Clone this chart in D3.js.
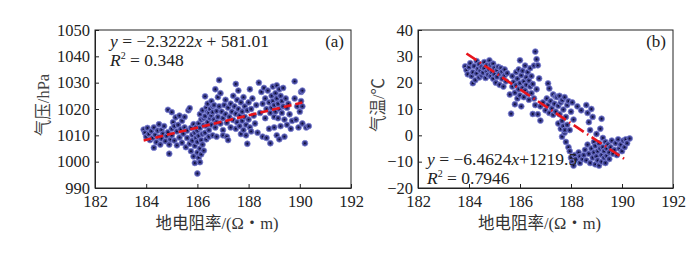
<!DOCTYPE html>
<html>
<head>
<meta charset="utf-8">
<script src="https://cdn.jsdelivr.net/npm/d3@7"></script>
<style>
  body { margin: 0; background: #fff; }
  svg text { font-family: "Liberation Serif", "Noto Sans CJK SC", serif; }
</style>
</head>
<body>
<div id="chart"></div>
<script>
// resistance (Ω·m) vs pressure (hPa)
var pressurePts = [
  [183.9,1012.2],[183.95,1011.0],[184.0,1009.5],[184.05,1012.8],[184.1,1010.5],[184.15,1008.2],[184.2,1011.6],
  [184.25,1009.0],[184.3,1005.3],[184.3,1013.0],[184.35,1010.2],[184.4,1007.4],[184.45,1011.8],[184.5,1009.3],
  [184.5,1014.2],[184.55,1006.5],[184.6,1008.8],[184.6,1012.0],[184.65,1010.6],[184.7,1013.5],[184.75,1007.8],
  [184.8,1009.8],[184.85,1011.2],[184.85,1019.7],[184.9,1003.0],[184.9,1006.5],[184.95,1008.5],[185.0,1012.5],
  [185.0,1010.0],[185.0,1018.8],[185.05,1015.0],[185.1,1013.5],[185.1,1008.0],[185.15,1016.8],[185.2,1011.5],
  [185.2,1006.2],[185.25,1014.0],[185.3,1017.5],[185.3,1009.2],[185.35,1012.3],[185.4,1007.2],[185.4,1015.5],
  [185.45,1010.6],[185.5,1013.0],[185.5,1017.0],[185.55,1005.5],[185.6,1009.0],[185.6,1011.8],[185.65,1019.5],
  [185.7,1020.3],[185.7,1006.8],[185.75,1004.0],[185.75,1012.8],[185.8,1010.2],[185.8,1008.0],[185.85,1014.2],
  [185.85,1002.0],[185.9,1011.0],[185.9,1006.0],[185.9,999.5],[185.95,1009.0],[185.95,1013.0],[186.0,995.5],
  [186.0,1003.5],[186.0,1007.5],[186.0,1011.8],[186.05,1001.5],[186.05,1009.8],[186.05,1014.5],[186.1,999.8],
  [186.1,1005.0],[186.1,1012.8],[186.1,1018.0],[186.15,1008.2],[186.15,1016.0],[186.15,1002.8],[186.2,1010.5],
  [186.2,1019.5],[186.2,1006.5],[186.25,1013.8],[186.25,1004.2],[186.25,1016.5],[186.3,1017.3],[186.3,1011.0],
  [186.3,1024.8],[186.35,1020.5],[186.35,1008.5],[186.35,1013.5],[186.4,1015.0],[186.4,1022.0],[186.4,1019.0],
  [186.45,1018.5],[186.45,1012.0],[186.45,1009.5],[186.5,1020.0],[186.5,1016.5],[186.55,1014.0],[186.55,1023.0],
  [186.55,1017.5],[186.6,1018.8],[186.6,1010.0],[186.6,1021.0],[186.65,1021.5],[186.65,1016.0],[186.7,1027.5],
  [186.7,1013.0],[186.75,1019.2],[186.75,1009.5],[186.75,1015.0],[186.8,1024.5],[186.8,1017.0],[186.85,1031.0],
  [186.85,1021.0],[186.9,1014.5],[186.9,1026.0],[186.95,1019.0],[187.0,1016.5],[187.0,1012.0],[187.0,1010.0],
  [187.05,1021.5],[187.1,1018.0],[187.1,1023.5],[187.15,1014.8],[187.15,1009.5],[187.2,1020.5],[187.2,1008.2],
  [187.25,1017.0],[187.3,1022.0],[187.3,1013.0],[187.35,1019.0],[187.4,1015.8],[187.4,1025.0],[187.45,1021.0],
  [187.5,1029.5],[187.5,1012.5],[187.5,1018.2],[187.55,1023.5],[187.55,1015.0],[187.6,1027.0],[187.6,1020.0],
  [187.65,1013.5],[187.65,1017.5],[187.7,1022.5],[187.7,1010.5],[187.75,1019.0],[187.75,1015.5],[187.8,1024.5],
  [187.8,1012.0],[187.85,1017.0],[187.85,1021.0],[187.9,1014.0],[187.9,1010.0],[187.95,1006.8],[187.95,1019.5],
  [188.0,1022.5],[188.0,1016.0],[188.05,1013.0],[188.05,1027.5],[188.1,1020.0],[188.1,1011.5],[188.15,1024.0],
  [188.2,1017.5],[188.25,1014.5],[188.3,1021.5],[188.35,1011.0],[188.4,1030.0],[188.45,1018.5],[188.5,1026.5],
  [188.55,1022.0],[188.55,1009.5],[188.6,1028.0],[188.65,1016.5],[188.65,1024.0],[188.7,1020.0],[188.7,1009.0],
  [188.75,1027.0],[188.8,1022.5],[188.8,1012.5],[188.85,1018.5],[188.85,1007.0],[188.9,1025.0],[188.9,1020.5],
  [188.95,1028.5],[188.95,1023.0],[189.0,1017.0],[189.0,1021.5],[189.0,1013.0],[189.05,1026.0],[189.05,1019.0],
  [189.1,1024.0],[189.1,1029.0],[189.1,1010.0],[189.15,1022.0],[189.15,1016.5],[189.2,1027.5],[189.2,1020.0],
  [189.2,1008.5],[189.25,1025.0],[189.25,1013.5],[189.3,1023.0],[189.3,1018.5],[189.35,1021.0],[189.35,1028.0],
  [189.4,1016.0],[189.4,1009.5],[189.45,1024.0],[189.5,1020.5],[189.5,1014.0],[189.55,1022.0],[189.6,1018.0],
  [189.65,1012.5],[189.7,1015.5],[189.8,1030.5],[189.8,1024.0],[189.85,1016.0],[189.9,1021.0],[189.95,1013.0],
  [190.0,1019.0],[190.05,1026.5],[190.05,1023.0],[190.1,1021.0],[190.1,1027.0],[190.1,1014.5],[190.2,1007.0],
  [190.25,1013.0],[190.35,1013.5]
];

// resistance vs air temperature (°C), panel (b)
var tempPts = [
  [183.85,26.2],[183.9,24.8],[183.95,23.2],[184.0,25.9],[184.05,27.4],[184.1,22.5],[184.15,19.8],[184.15,24.0],
  [184.2,26.3],[184.25,21.0],[184.3,28.2],[184.3,23.5],[184.35,25.2],[184.4,22.0],[184.4,27.0],[184.45,24.5],
  [184.5,26.0],[184.5,22.8],[184.55,23.8],[184.6,25.5],[184.6,27.8],[184.65,21.8],[184.7,24.2],[184.7,26.6],
  [184.75,23.0],[184.8,25.0],[184.8,28.5],[184.85,22.5],[184.85,26.8],[184.9,24.0],[184.95,21.5],[184.95,27.2],
  [185.0,25.6],[185.0,23.2],[185.05,20.0],[185.1,24.8],[185.1,22.2],[185.15,26.0],[185.2,19.2],[185.2,23.5],
  [185.25,25.5],[185.3,21.5],[185.3,24.2],[185.35,18.5],[185.4,22.8],[185.4,25.0],[185.45,20.5],[185.5,23.6],
  [185.6,15.5],[185.65,8.2],[185.7,18.5],[185.7,22.5],[185.75,20.2],[185.8,11.8],[185.8,16.2],[185.85,24.0],
  [185.85,19.0],[185.9,14.0],[185.9,21.5],[185.95,17.5],[185.95,25.0],[186.0,28.5],[186.0,19.8],[186.0,15.2],
  [186.05,11.0],[186.05,22.8],[186.1,18.0],[186.1,24.5],[186.15,20.5],[186.15,14.5],[186.2,26.5],[186.2,17.0],
  [186.25,22.0],[186.25,19.2],[186.3,15.8],[186.3,24.0],[186.35,20.8],[186.35,13.5],[186.4,18.5],[186.4,25.5],
  [186.45,16.0],[186.45,22.5],[186.5,19.5],[186.5,8.1],[186.55,14.0],[186.55,26.5],[186.6,31.8],[186.6,11.5],
  [186.65,28.9],[186.65,17.5],[186.7,26.6],[186.7,8.0],[186.75,21.6],[186.8,5.6],[186.8,11.0],
  [186.9,12.5],[187.0,9.5],[187.05,14.0],[187.1,19.7],[187.1,11.5],[187.15,17.8],[187.15,8.5],[187.2,13.0],
  [187.25,10.2],[187.3,15.5],[187.3,7.8],[187.35,12.0],[187.4,9.0],[187.4,14.7],[187.45,14.5],[187.5,11.2],
  [187.5,4.5],[187.55,8.0],[187.55,15.0],[187.6,2.5],[187.6,12.5],[187.65,5.5],[187.65,-0.5],[187.66,13.4],
  [187.7,9.8],[187.7,3.5],[187.75,14.5],[187.75,1.0],[187.76,2.0],[187.8,7.0],[187.8,-2.5],[187.85,11.5],
  [187.85,4.0],[187.9,-4.5],[187.9,13.0],[187.95,2.0],[187.95,-6.0],[188.0,9.0],[188.0,-8.5],[188.05,12.5],
  [188.05,-10.0],[188.1,-11.5],[188.1,6.0],[188.15,-7.5],[188.2,-9.0],[188.25,11.0],[188.3,-6.5],[188.35,-8.0],
  [188.35,-10.5],[188.4,9.5],[188.45,-9.0],
  [188.5,-7.5],[188.55,-5.5],[188.6,-9.5],[188.6,11.5],[188.65,-3.5],[188.65,8.5],[188.7,-7.0],[188.7,5.0],
  [188.75,-10.5],[188.75,2.0],[188.8,-5.0],[188.8,10.0],[188.85,-8.5],[188.85,7.0],[188.9,-2.5],[188.9,-6.5],
  [188.95,-11.0],[188.95,-4.0],[189.0,-8.0],[189.0,0.5],[189.05,-6.0],[189.05,-9.5],[189.1,-3.0],[189.1,-11.5],
  [189.15,-5.0],[189.15,2.5],[189.2,6.3],[189.2,-7.5],[189.2,-10.0],[189.25,-4.5],[189.25,-1.0],[189.3,-8.5],
  [189.3,-6.0],[189.35,-2.5],[189.35,-10.5],[189.4,-5.0],[189.4,-7.8],[189.45,-3.5],[189.5,-6.5],[189.5,-9.0],
  [189.55,-4.5],[189.6,-2.0],[189.65,-7.0],[189.7,-5.5],[189.75,-3.0],[189.8,-7.5],[189.85,-1.5],[189.9,-5.0],
  [189.95,-3.5],[190.0,-6.0],[190.05,-2.0],[190.1,-4.5],[190.15,-1.5],[190.2,-3.0],[190.3,-1.2]
];

var xTicks = [182, 184, 186, 188, 190, 192];
var pressureTicks = [990, 1000, 1010, 1020, 1030, 1040, 1050];
var tempTicks = [-20, -10, 0, 10, 20, 30, 40];

// fitted lines: [slope, intercept], drawn over the x range of the data
var fitA = [2.3222, 581.01];
var fitB = [-6.4624, 1219.5];
var fitRange = [183.9, 190.1];

var svg = d3.select("#chart")
  .append("svg")
    .attr("width", 700)
    .attr("height", 269);

function panel(opt) {
  var x = d3.scaleLinear().domain([182, 192]).range([opt.left, opt.right]);
  var y = d3.scaleLinear().domain(opt.yDomain).range([188, 30]);
  var g = svg.append("g");

  g.append("g")
    .attr("transform", "translate(0,188)")
    .call(d3.axisBottom(x).tickValues(xTicks).tickSizeInner(-4).tickSizeOuter(0).tickPadding(7).tickFormat(d3.format("d")));
  g.append("g")
    .attr("transform", "translate(" + opt.left + ",0)")
    .call(d3.axisLeft(y).tickValues(opt.yTicks).tickSizeInner(-4).tickSizeOuter(0).tickPadding(5).tickFormat(d3.format("d")));

  g.selectAll(".tick text").attr("font-size", 16.5).attr("fill", "#222");
  g.selectAll(".domain").attr("stroke", "#222");
  g.selectAll(".tick line").attr("stroke", "#222");

  g.append("rect")
    .attr("x", opt.left).attr("y", 30)
    .attr("width", opt.right - opt.left).attr("height", 158)
    .attr("fill", "none").attr("stroke", "#222").attr("stroke-width", 1);

  var dots = g.append("g").selectAll("g")
    .data(opt.data)
    .enter().append("g")
      .attr("transform", function(d) { return "translate(" + x(d[0]) + "," + y(d[1]) + ")"; });
  dots.append("circle").attr("r", 2.9).attr("fill", "#3b3e8f")
    .attr("stroke", "#8187d8").attr("stroke-width", 0.8);
  dots.append("circle").attr("r", 0.9).attr("fill", "#0c0c2e");

  g.append("line")
    .attr("x1", x(fitRange[0])).attr("y1", y(opt.fit[0] * fitRange[0] + opt.fit[1]))
    .attr("x2", x(fitRange[1])).attr("y2", y(opt.fit[0] * fitRange[1] + opt.fit[1]))
    .attr("stroke", "#e8141c").attr("stroke-width", 2.6)
    .attr("stroke-dasharray", opt.dash);

  // equation text
  var eq = g.append("text").attr("x", opt.eqX).attr("y", opt.eqY)
    .attr("font-size", 17.5).attr("fill", "#222");
  eq.append("tspan").attr("font-style", "italic").text("y");
  eq.append("tspan").text(" = \u2212" + opt.eqSlope);
  eq.append("tspan").attr("font-style", "italic").text("x");
  eq.append("tspan").text(opt.eqRest);

  var r2 = g.append("text").attr("x", opt.eqX).attr("y", opt.eqY + 19)
    .attr("font-size", 17.5).attr("fill", "#222");
  r2.append("tspan").attr("font-style", "italic").text("R");
  r2.append("tspan").attr("font-size", 10).attr("dy", -7).text("2");
  r2.append("tspan").attr("dy", 7).text(" = " + opt.r2);

  g.append("text").attr("x", opt.right - 7).attr("y", 47)
    .attr("text-anchor", "end").attr("font-size", 17).attr("fill", "#222")
    .text(opt.tag);

  g.append("text")
    .attr("transform", "translate(" + opt.yLabelX + ",105) rotate(-90)")
    .attr("text-anchor", "middle").attr("font-size", 16.5).attr("fill", "#444")
    .text(opt.yLabel);

  g.append("text")
    .attr("x", (opt.left + opt.right) / 2 - 6).attr("y", 229)
    .attr("text-anchor", "middle").attr("font-size", 16.5).attr("fill", "#333")
    .text("地电阻率/(Ω・m)");
}

panel({
  left: 95, right: 351, yDomain: [990, 1050], yTicks: pressureTicks,
  data: pressurePts, fit: fitA, dash: "8,4",
  eqX: 110, eqY: 47, eqSlope: "2.3222", eqRest: " + 581.01", r2: "0.348",
  tag: "(a)", yLabel: "气压/hPa", yLabelX: 49
});

panel({
  left: 418, right: 673, yDomain: [-20, 40], yTicks: tempTicks,
  data: tempPts, fit: fitB, dash: "12,4,1.5,4",
  eqX: 427, eqY: 165, eqSlope: "6.4624", eqRest: "+1219.5", r2: "0.7946",
  tag: "(b)", yLabel: "气温/℃", yLabelX: 384
});
</script>
</body>
</html>
